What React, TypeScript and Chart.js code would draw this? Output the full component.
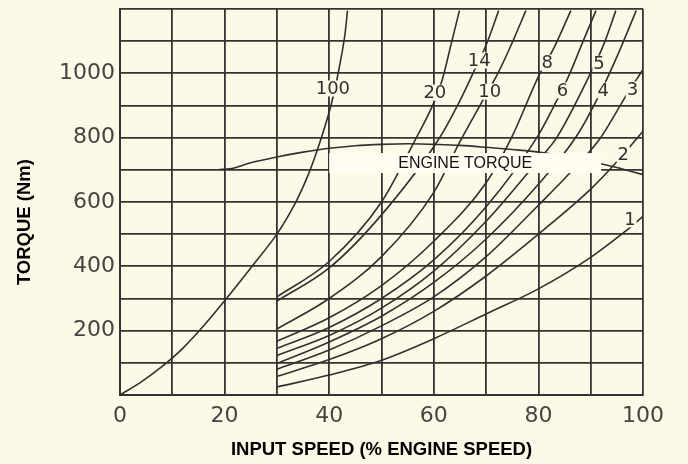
import React, { useEffect, useRef } from 'react';
import { Chart, registerables } from 'chart.js';

Chart.register(...registerables);

// ---- data (x = input speed %, y = torque Nm) ----
const curve100: [number, number][] = [[0, 0], [4, 40], [8, 88], [12, 145], [16, 215], [20, 293], [25, 395], [30, 500], [32, 552], [34, 612], [36, 685], [38, 775], [40, 880], [41, 945], [42, 1025], [43, 1120], [43.5, 1195]];
const curve20: [number, number][] = [[30, 305], [40, 415], [50, 600], [56.5, 795], [59.9, 905], [61.7, 985], [63.3, 1090], [64.9, 1195]];
const curve14: [number, number][] = [[30, 292], [40, 395], [50, 560], [61.2, 802], [65, 915], [67.6, 1004], [70.1, 1092], [72.4, 1195]];
const curve10: [number, number][] = [[30, 205], [40, 300], [50, 430], [60, 630], [65.3, 797], [69, 905], [72.1, 995], [74.6, 1081], [77.6, 1195]];
const curve8: [number, number][] = [[30, 167], [40, 240], [50, 340], [60, 478], [70, 660], [75, 805], [80, 990], [83, 1080], [86.2, 1195]];
const curve6: [number, number][] = [[30, 145], [40, 210], [50, 300], [60, 420], [70, 585], [79.7, 800], [83.5, 915], [85.7, 988], [88.3, 1090], [91, 1195]];
const curve5: [number, number][] = [[30, 123], [40, 185], [50, 270], [60, 385], [70, 540], [80, 730], [83.5, 800], [89.9, 998], [92.5, 1090], [94.8, 1195]];
const curve4: [number, number][] = [[30, 98], [40, 165], [50, 245], [60, 350], [70, 485], [80, 655], [87.3, 805], [92, 945], [95.5, 1070], [98.7, 1195]];
const curve3: [number, number][] = [[30, 80], [40, 140], [50, 215], [60, 305], [70, 430], [80, 590], [86, 690], [91.9, 800], [96.6, 926], [100, 1012]];
const curve2: [number, number][] = [[30, 58], [40, 110], [50, 175], [60, 260], [70, 370], [80, 500], [90, 640], [95, 725], [100, 820]];
const curve1: [number, number][] = [[30, 25], [40, 62], [50, 108], [60, 175], [70, 252], [80, 330], [90, 428], [96.4, 506], [100, 555]];
const engineTorque: [number, number][] = [[19, 701], [21, 703], [25, 722], [30, 740], [35, 755], [40, 767], [45, 775], [50, 779], [55, 781], [60, 779], [65, 776], [70, 770], [75, 763], [80, 755], [85, 742], [90, 726], [95, 707], [100, 685]];

const curveNames = ['100', '20', '14', '10', '8', '6', '5', '4', '3', '2', '1'];
const labelX = [40.7, 60.2, 68.7, 70.7, 81.7, 84.6, 91.6, 92.4, 98.0, 96.2, 97.5];
const labelY = [953, 940, 1040, 943, 1033, 947, 1030, 947, 950, 748, 546];

const xTickValues = [0, 20, 40, 60, 80, 100];
const yTickValues = [200, 400, 600, 800, 1000];

const engineLabel = 'ENGINE TORQUE';
const engineBoxX = [40, 92];
const engineBoxY = [690, 752];
const engineTextPos = [66, 720];

const xTitle = 'INPUT SPEED (% ENGINE SPEED)';
const yTitle = 'TORQUE (Nm)';

const BG = '#fdf9e7';
const INK = '#303030';
const GRID = '#333333';

const toXY = (arr: [number, number][]) => arr.map(([x, y]) => ({ x, y }));

export default function App() {
  const ref = useRef<HTMLCanvasElement | null>(null);

  useEffect(() => {
    document.body.style.margin = '0';
    const canvas = ref.current;
    if (!canvas) return;

    const decor = {
      id: 'decor',
      beforeDraw(chart: any) {
        const { ctx } = chart;
        ctx.save();
        ctx.fillStyle = BG;
        ctx.fillRect(0, 0, chart.width, chart.height);
        ctx.restore();
      },
      afterDatasetsDraw(chart: any) {
        const { ctx, scales } = chart;
        const xs = scales.x;
        const ys = scales.y;
        ctx.save();
        // engine torque label box
        const bx0 = xs.getPixelForValue(engineBoxX[0]);
        const bx1 = xs.getPixelForValue(engineBoxX[1]);
        const by0 = ys.getPixelForValue(engineBoxY[1]);
        const by1 = ys.getPixelForValue(engineBoxY[0]);
        ctx.fillStyle = '#fffdf2';
        ctx.fillRect(bx0, by0, bx1 - bx0, by1 - by0);
        ctx.fillStyle = '#111';
        ctx.font = '16px "Liberation Sans", Arial, sans-serif';
        ctx.textAlign = 'center';
        ctx.textBaseline = 'middle';
        ctx.fillText(engineLabel, xs.getPixelForValue(engineTextPos[0]), ys.getPixelForValue(engineTextPos[1]));

        // curve labels
        ctx.font = '18px "DejaVu Sans", sans-serif';
        curveNames.forEach((name, i) => {
          const cx = xs.getPixelForValue(labelX[i]);
          const cy = ys.getPixelForValue(labelY[i]);
          const w = ctx.measureText(name).width;
          ctx.fillStyle = BG;
          ctx.fillRect(cx - w / 2 - 1, cy - 8, w + 2, 16);
          ctx.fillStyle = INK;
          ctx.fillText(name, cx, cy + 1);
        });
        ctx.restore();
      },
      afterDraw(chart: any) {
        const { ctx, chartArea } = chart;
        ctx.save();
        ctx.fillStyle = '#000';
        ctx.font = 'bold 18.5px "Liberation Sans", Arial, sans-serif';
        ctx.textAlign = 'center';
        ctx.textBaseline = 'middle';
        ctx.fillText(xTitle, (chartArea.left + chartArea.right) / 2, chart.height - 14.5);
        ctx.translate(25, chartArea.top + (chartArea.bottom - chartArea.top) * 0.552);
        ctx.rotate(-Math.PI / 2);
        ctx.fillText(yTitle, 0, 0);
        ctx.restore();
      },
    };

    const lineDs = (data: [number, number][]) => ({
      data: toXY(data),
      showLine: true,
      borderColor: INK,
      borderWidth: 1.6,
      pointRadius: 0,
      fill: false,
      cubicInterpolationMode: 'monotone' as const,
    });

    const chart = new Chart(canvas, {
      type: 'scatter',
      data: {
        datasets: [curve100, curve20, curve14, curve10, curve8, curve6, curve5, curve4, curve3, curve2, curve1, engineTorque].map(lineDs),
      },
      options: {
        responsive: false,
        animation: false,
        layout: { padding: { left: 0, right: 45, top: 9, bottom: 0 } },
        plugins: { legend: { display: false }, tooltip: { enabled: false } },
        scales: {
          x: {
            type: 'linear',
            min: 0,
            max: 100,
            afterFit: (s: any) => { s.height = 69; s.paddingLeft = 0; s.paddingRight = 0; },
            ticks: {
              stepSize: 10,
              autoSkip: false,
              maxRotation: 0,
              padding: 8,
              color: '#444',
              font: { family: '"DejaVu Sans", sans-serif', size: 22 },
              callback: (v: any) => (xTickValues.includes(Number(v)) ? String(v) : ''),
            },
            grid: { color: GRID, lineWidth: 1.8, drawTicks: false },
            border: { display: true, color: GRID, width: 2 },
          },
          y: {
            type: 'linear',
            min: 0,
            max: 1200,
            afterFit: (s: any) => { s.width = 120; s.paddingTop = 0; s.paddingBottom = 0; },
            ticks: {
              stepSize: 100,
              autoSkip: false,
              padding: 5,
              color: '#444',
              font: { family: '"DejaVu Sans", sans-serif', size: 22 },
              callback: (v: any) => (yTickValues.includes(Number(v)) ? String(v) : ''),
            },
            grid: { color: GRID, lineWidth: 1.8, drawTicks: false },
            border: { display: true, color: GRID, width: 2 },
          },
        },
      },
      plugins: [decor],
    });

    return () => chart.destroy();
  }, []);

  return (
    <div style={{ width: 688, height: 464 }}>
      <canvas ref={ref} width={688} height={464} />
    </div>
  );
}
